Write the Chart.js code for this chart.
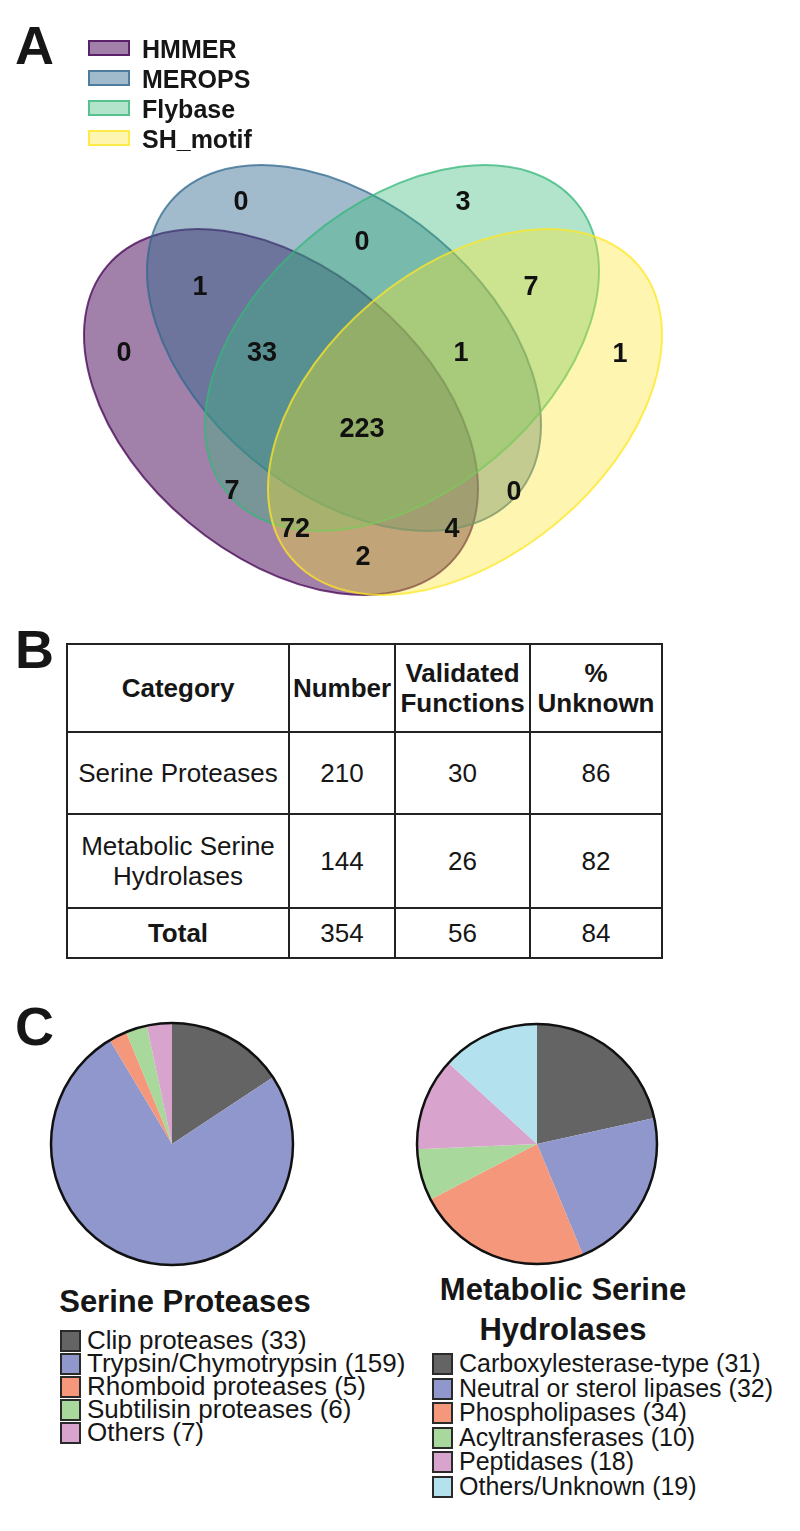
<!DOCTYPE html>
<html>
<head>
<meta charset="utf-8">
<script src="https://cdn.jsdelivr.net/npm/chart.js@4.4.1/dist/chart.umd.min.js"></script>
<style>
  body { margin: 0; background: #fff; }
  #page { position: relative; width: 800px; height: 1531px; font-family: "Liberation Sans", Arial, sans-serif; color: #161616; }
  .abs { position: absolute; }
  .panel { font-weight: bold; font-size: 54px; line-height: 1; }
  .vleg { position: absolute; left: 88px; width: 38px; height: 12px; border: 2px solid; }
  .vtxt { position: absolute; left: 142px; font-weight: bold; font-size: 25px; line-height: 20px; }
  table { position: absolute; left: 66px; top: 643px; border-collapse: collapse; font-size: 26px; }
  td, th { border: 2px solid #222; text-align: center; padding: 0; line-height: 30px; }
  th { font-weight: bold; }
  .ptitle { position: absolute; font-weight: bold; font-size: 31px; text-align: center; line-height: 40px; }
  .pleg { position: absolute; }
  .prow { position: relative; height: 23px; line-height: 23px; white-space: nowrap; }
  .prow span.sw { position: absolute; left: 0; top: 1px; width: 17px; height: 18px; border: 2px solid #2a2a2a; }
  .prow span.t { position: absolute; left: 27px; top: 0; }
</style>
</head>
<body>
<div id="page">
  <div class="abs panel" style="left:15px;top:18px;">A</div>
  <canvas id="venn" class="abs" width="800" height="620" style="left:0;top:0;"></canvas>
  <div id="vennLegend"></div>

  <div class="abs panel" style="left:15px;top:622px;">B</div>
  <table id="tbl"></table>

  <div class="abs panel" style="left:15px;top:999px;">C</div>
  <canvas id="pieSP" class="abs" width="250" height="250" style="left:47px;top:1019px;"></canvas>
  <canvas id="pieMSH" class="abs" width="250" height="250" style="left:412px;top:1019px;"></canvas>
  <div class="ptitle" style="left:35px;top:1282px;width:300px;">Serine Proteases</div>
  <div class="ptitle" style="left:413px;top:1270px;width:300px;">Metabolic Serine<br>Hydrolases</div>
  <div id="legSP" class="pleg" style="left:60px;top:1329px;font-size:26px;"></div>
  <div id="legMSH" class="pleg" style="left:432px;top:1352px;font-size:25px;"></div>
</div>

<script>
// panel A: venn
const SET_NAMES = ['HMMER', 'MEROPS', 'Flybase', 'SH_motif'];
const SET_COLORS = ['#440154', '#31688e', '#35b779', '#fde725'];
const REGION_KEYS = ['H', 'M', 'F', 'S', 'HM', 'MF', 'FS', 'HMF', 'MFS', 'HMFS', 'HF', 'MS', 'HFS', 'HMS', 'HS'];
const REGION_COUNTS = [0, 0, 3, 1, 1, 0, 7, 33, 1, 223, 7, 0, 72, 4, 2];

// panel B: table
const TABLE_HEADER = ['Category', 'Number', 'Validated<br>Functions', '%<br>Unknown'];
const TABLE_CATEGORIES = ['Serine Proteases', 'Metabolic Serine<br>Hydrolases', 'Total'];
const TABLE_NUMBER = [210, 144, 354];
const TABLE_VALIDATED = [30, 26, 56];
const TABLE_UNKNOWN = [86, 82, 84];

// panel C: pies
const SP_LABELS = ['Clip proteases', 'Trypsin/Chymotrypsin', 'Rhomboid proteases', 'Subtilisin proteases', 'Others'];
const SP_VALUES = [33, 159, 5, 6, 7];
const MSH_LABELS = ['Carboxylesterase-type', 'Neutral or sterol lipases', 'Phospholipases', 'Acyltransferases', 'Peptidases', 'Others/Unknown'];
const MSH_VALUES = [31, 32, 34, 10, 18, 19];
const PIE_COLORS = ['#646464', '#8f97cc', '#f4977b', '#a8d89b', '#d8a4cd', '#b3e2ee'];

// layout (pixels of the venn canvas)
const ELLIPSES = [
  { cx: 281, cy: 412, rot: 40, alpha: 0.5 },
  { cx: 344, cy: 348, rot: 40, alpha: 0.45 },
  { cx: 402, cy: 348, rot: -40, alpha: 0.38 },
  { cx: 465, cy: 412, rot: -40, alpha: 0.36 },
];
const ELL_A = 227, ELL_B = 144;
const LABEL_POS = {
  H: [124, 354], M: [241, 203], F: [463, 203], S: [620, 355],
  HM: [200, 288], MF: [362, 243], FS: [531, 288],
  HMF: [262, 354], MFS: [461, 354], HMFS: [362, 430],
  HF: [232, 492], MS: [514, 493], HFS: [295, 530], HMS: [452, 530], HS: [363, 558],
};

function rgba(hex, a) {
  const n = parseInt(hex.slice(1), 16);
  return `rgba(${n >> 16},${(n >> 8) & 255},${n & 255},${a})`;
}

const vennPlugin = {
  id: 'venn',
  beforeDatasetsDraw(chart) {
    const { ctx, scales: { x, y } } = chart;
    ELLIPSES.forEach((e, i) => {
      const px = x.getPixelForValue(e.cx);
      const py = y.getPixelForValue(e.cy);
      const rx = Math.abs(x.getPixelForValue(e.cx + ELL_A) - px);
      const ry = Math.abs(y.getPixelForValue(e.cy + ELL_B) - py);
      ctx.save();
      ctx.beginPath();
      ctx.ellipse(px, py, rx, ry, (e.rot * Math.PI) / 180, 0, Math.PI * 2);
      ctx.fillStyle = rgba(SET_COLORS[i], e.alpha);
      ctx.fill();
      ctx.lineWidth = 2;
      ctx.strokeStyle = rgba(SET_COLORS[i], 0.75);
      ctx.stroke();
      ctx.restore();
    });
  },
  afterDatasetsDraw(chart) {
    const { ctx } = chart;
    const meta = chart.getDatasetMeta(0);
    ctx.save();
    ctx.font = 'bold 27px "Liberation Sans", Arial, sans-serif';
    ctx.fillStyle = '#111';
    ctx.textAlign = 'center';
    ctx.textBaseline = 'middle';
    meta.data.forEach((pt, i) => {
      ctx.fillText(String(REGION_COUNTS[i]), pt.x, pt.y);
    });
    ctx.restore();
  },
};

new Chart(document.getElementById('venn'), {
  type: 'scatter',
  data: {
    datasets: [{
      data: REGION_KEYS.map((k) => ({ x: LABEL_POS[k][0], y: LABEL_POS[k][1] })),
      pointRadius: 0,
    }],
  },
  options: {
    responsive: false,
    animation: false,
    events: [],
    layout: { padding: 0 },
    plugins: { legend: { display: false }, tooltip: { enabled: false } },
    scales: {
      x: { type: 'linear', min: 0, max: 800, display: false },
      y: { type: 'linear', min: 0, max: 620, reverse: true, display: false },
    },
  },
  plugins: [vennPlugin],
});

// venn legend
const vennLegend = document.getElementById('vennLegend');
SET_NAMES.forEach((name, i) => {
  const top = 40 + i * 30;
  vennLegend.insertAdjacentHTML('beforeend',
    `<div class="vleg" style="top:${top}px;background:${rgba(SET_COLORS[i], ELLIPSES[i].alpha)};border-color:${rgba(SET_COLORS[i], 0.75)}"></div>` +
    `<div class="vtxt" style="top:${top - 1}px">${name}</div>`);
});

// table
const colWidths = [220, 104, 133, 130];
const rowHeights = [86, 82, 94, 50];
let html = '<tr>' + TABLE_HEADER.map((h, j) => `<th style="width:${colWidths[j]}px;height:${rowHeights[0]}px">${h}</th>`).join('') + '</tr>';
TABLE_CATEGORIES.forEach((c, i) => {
  const bold = i === TABLE_CATEGORIES.length - 1 ? 'font-weight:bold;' : '';
  html += `<tr style="height:${rowHeights[i + 1]}px"><td style="${bold}">${c}</td><td>${TABLE_NUMBER[i]}</td><td>${TABLE_VALIDATED[i]}</td><td>${TABLE_UNKNOWN[i]}</td></tr>`;
});
document.getElementById('tbl').innerHTML = html;

// pies
const outlinePlugin = {
  id: 'outline',
  afterDatasetsDraw(chart) {
    const arc = chart.getDatasetMeta(0).data[0];
    const { ctx } = chart;
    ctx.save();
    ctx.beginPath();
    ctx.arc(arc.x, arc.y, arc.outerRadius, 0, Math.PI * 2);
    ctx.lineWidth = 2.5;
    ctx.strokeStyle = '#111';
    ctx.stroke();
    ctx.restore();
  },
};

function makePie(id, labels, values, padding) {
  new Chart(document.getElementById(id), {
    type: 'pie',
    data: {
      labels,
      datasets: [{ data: values, backgroundColor: PIE_COLORS.slice(0, values.length), borderWidth: 0 }],
    },
    options: {
      responsive: false,
      animation: false,
      events: [],
      layout: { padding },
      plugins: { legend: { display: false }, tooltip: { enabled: false } },
    },
    plugins: [outlinePlugin],
  });
}
makePie('pieSP', SP_LABELS, SP_VALUES, 4);
makePie('pieMSH', MSH_LABELS, MSH_VALUES, 5);

function makeLegend(id, labels, values, rowH) {
  const el = document.getElementById(id);
  labels.forEach((l, i) => {
    el.insertAdjacentHTML('beforeend',
      `<div class="prow" style="height:${rowH}px"><span class="sw" style="background:${PIE_COLORS[i]}"></span><span class="t">${l} (${values[i]})</span></div>`);
  });
}
makeLegend('legSP', SP_LABELS, SP_VALUES, 23);
makeLegend('legMSH', MSH_LABELS, MSH_VALUES, 24.6);
</script>
</body>
</html>
